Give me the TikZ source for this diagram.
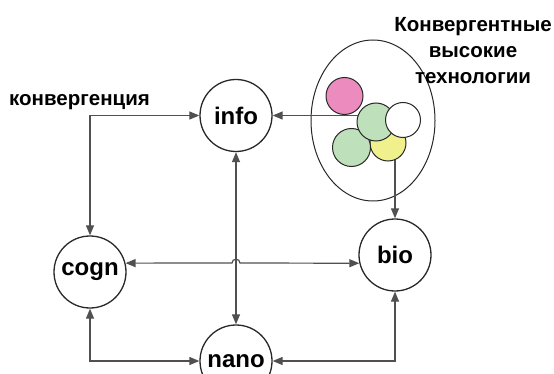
\documentclass[tikz,border=0pt]{standalone}
\usepackage{fontspec}
\setmainfont{Liberation Sans}
\usetikzlibrary{arrows.meta,shapes.geometric}
\definecolor{cpink}{RGB}{236,140,190}
\definecolor{cgreen}{RGB}{190,224,186}
\definecolor{cyellow}{RGB}{240,240,140}
\definecolor{cline}{RGB}{80,80,80}
\definecolor{cedge}{RGB}{40,40,40}
\tikzset{
  tech/.style={circle, draw=cedge, line width=1.3pt, minimum size=72pt, inner sep=0pt, font=\fontsize{24}{26}\selectfont\bfseries},
  small/.style={circle, draw=cedge, line width=1pt, inner sep=0pt},
  conn/.style={draw=cline, line width=1.2pt},
  tip/.style={-{Triangle[length=10pt,width=8pt]}},
  tips/.style={{Triangle[length=10pt,width=8pt]}-{Triangle[length=10pt,width=8pt]}},
  lbl/.style={font=\fontsize{20.5}{26}\selectfont\bfseries, align=center, inner sep=0pt}
}
\begin{document}
\begin{tikzpicture}[x=1pt,y=-1pt]
\useasboundingbox (0,0) rectangle (554,374);
\node[tech] (info) at (236,115.5) {info};
\node[tech] (cogn) at (90,272) {cogn};
\node[tech] (bio) at (395,255) {bio};
\node[tech] (nano) at (236,361) {nano};
\node[draw=cedge, line width=1pt, ellipse, minimum width=124pt, minimum height=161pt, inner sep=0pt] (ell) at (373,120.5) {};
\coordinate (g1c) at (376,122);
\coordinate (yc) at (388,143);
% connectors
\draw[conn, tip] (g1c |- info.east) -- (info.east);
\draw[conn, tip] (bio.north |- yc) -- (bio.north);
\draw[conn, tips] (cogn.north) |- (info.west);
\draw[conn, tips] (info.south) -- (nano.north);
\draw[conn, tips] (cogn.south) |- (nano.west);
\draw[conn, tips] (bio.south) |- (nano.east);
\draw[conn, tips] (cogn.14) -- (232,263) .. controls (232,258) and (240,258) .. (240,263) -- (bio.193);
% small circles
\node[small, fill=cyellow, minimum size=36pt] (ye) at (yc) {};
\node[small, fill=cgreen, minimum size=38pt] (g2) at (351.5,147.5) {};
\node[small, fill=cgreen, minimum size=38pt] (g1) at (g1c) {};
\node[small, fill=white, minimum size=35pt] (wh) at (403,120) {};
\node[small, fill=cpink, minimum size=37pt] (pk) at (344.5,96) {};
% labels
\node[lbl, anchor=west] (conv) at (9,102) {конвергенция};
\node[lbl] (ht) at (473,51) {Конвергентные\\высокие\\технологии};
\end{tikzpicture}
\end{document}
